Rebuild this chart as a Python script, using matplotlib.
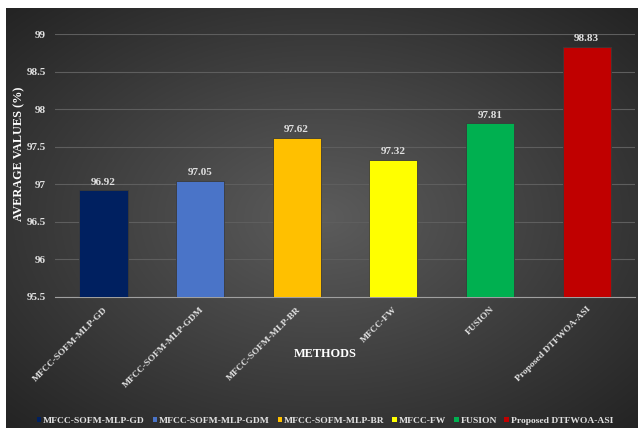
import matplotlib.pyplot as plt
import numpy as np
from matplotlib.patches import Patch

methods = ['MFCC-SOFM-MLP-GD', 'MFCC-SOFM-MLP-GDM', 'MFCC-SOFM-MLP-BR',
           'MFCC-FW', 'FUSION', 'Proposed DTFWOA-ASI']
values = [96.92, 97.05, 97.62, 97.32, 97.81, 98.83]
colors = ['#002060', '#4A74C8', '#FFC000', '#FFFF00', '#00B050', '#C00000']
yticks = [95.5, 96, 96.5, 97, 97.5, 98, 98.5, 99]

plt.rcParams['font.family'] = ['Liberation Serif', 'DejaVu Serif']
plt.rcParams['font.weight'] = 'bold'

W, H = 638, 428
fig = plt.figure(figsize=(W / 100, H / 100), dpi=100)
fig.patch.set_facecolor('white')

# dark radial background
bg = fig.add_axes([6 / W, 0, (W - 6) / W, (H - 8) / H])
yy, xx = np.mgrid[-1:1:300j, -1:1:450j]
r = np.sqrt(xx ** 2 + yy ** 2) / np.sqrt(2)
shade = 0.36 - 0.22 * r
bg.imshow(np.dstack([shade, shade, shade]), aspect='auto', extent=[0, 1, 0, 1])
bg.axis('off')

ax = fig.add_axes([55 / W, 1 - 297 / H, 580 / W, (297 - 34) / H])
ax.patch.set_alpha(0)
x = np.arange(len(methods))
ax.bar(x, values, width=0.5, color=colors, edgecolor='#3a3a3a',
       linewidth=0.6, zorder=3)
for xi, v in zip(x, values):
    ax.text(xi, v + 0.05, f'{v:.2f}', ha='center', va='bottom',
            color='#e0e0e0', fontsize=8, fontweight='bold')

ax.set_ylim(95.5, 99)
ax.set_xlim(-0.5, len(methods) - 0.5)
ax.set_yticks(yticks)
ax.set_yticklabels([f'{t:g}' for t in yticks], color='#e0e0e0', fontsize=8)
ax.set_xticks(x)
ax.set_xticklabels(methods, rotation=45, ha='right', rotation_mode='anchor',
                   color='#e0e0e0', fontsize=6.8)
ax.tick_params(axis='x', length=0, pad=6)
ax.tick_params(axis='y', length=0, pad=6.5)
ax.yaxis.grid(True, color='#5e5e5e', linewidth=0.8, zorder=0)
for s in ['top', 'right', 'left']:
    ax.spines[s].set_visible(False)
ax.spines['bottom'].set_color('#a0a0a0')

fig.text(19 / W, 1 - 154 / H, 'AVERAGE VALUES (%)', color='white', fontsize=8.8,
         fontweight='bold', rotation=90, ha='center', va='center')
fig.text(325 / W, 1 - 354 / H, 'METHODS', color='white', fontsize=8.8,
         fontweight='bold', ha='center', va='center')

handles = [Patch(facecolor=c, edgecolor='none') for c in colors]
fig.legend(handles, methods, loc='center', bbox_to_anchor=(325 / W, 1 - 421 / H),
           ncol=6, frameon=False, fontsize=6.8, handlelength=0.5, handleheight=0.5,
           handletextpad=0.2, columnspacing=0.8, labelcolor='#e0e0e0',
           borderpad=0)

fig.savefig('out.png', dpi=100)
